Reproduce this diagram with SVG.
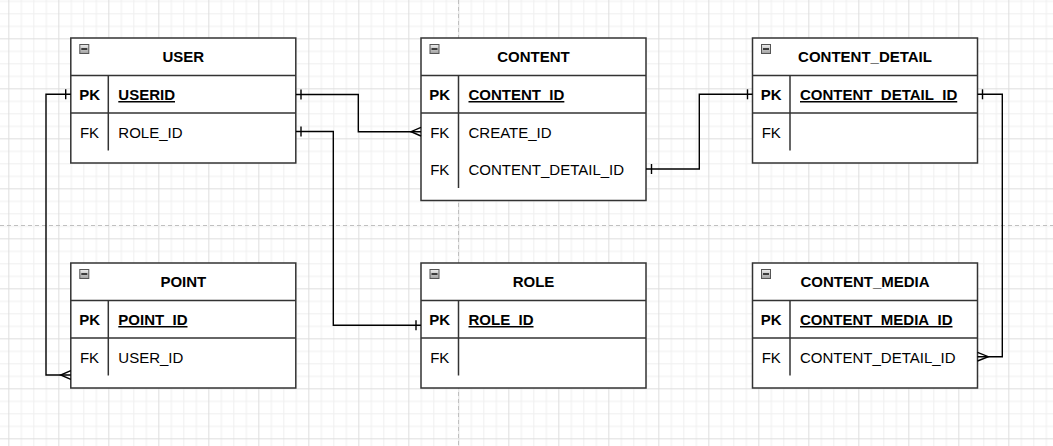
<svg xmlns="http://www.w3.org/2000/svg" width="1053" height="446" viewBox="0 0 1053 446">
  <style>
    .box{fill:#fff;stroke:#333;stroke-width:1.5}
    .sep{stroke:#333;stroke-width:1.5;fill:none}
    .title{font-family:"Liberation Sans",Arial,sans-serif;font-size:15px;font-weight:bold;text-anchor:middle;fill:#000}
    .key{font-family:"Liberation Sans",Arial,sans-serif;font-size:15px;text-anchor:middle;fill:#000}
    .keyb{font-family:"Liberation Sans",Arial,sans-serif;font-size:15px;font-weight:bold;text-anchor:middle;fill:#000}
    .fld{font-family:"Liberation Sans",Arial,sans-serif;font-size:15px;fill:#000}
    .pk{font-family:"Liberation Sans",Arial,sans-serif;font-size:15px;font-weight:bold;text-decoration:underline;fill:#000}
    .icon{fill:url(#ig);stroke:#555;stroke-width:1}
    .minus{stroke:#000;stroke-width:1.4}
    .edge{fill:none;stroke:#000;stroke-width:1.4}
  </style>
  <defs>
    <linearGradient id="ig" x1="0" y1="0" x2="0" y2="1">
      <stop offset="0" stop-color="#eeeeee"/>
      <stop offset="1" stop-color="#a0a0a0"/>
    </linearGradient>
    <pattern id="grid" patternUnits="userSpaceOnUse" x="8.33" y="38.33" width="50" height="50">
      <rect x="0" y="0" width="50" height="50" fill="#fff"/>
      <rect x="12.5" y="0" width="1" height="50" fill="#efefef"/>
      <rect x="25" y="0" width="1" height="50" fill="#efefef"/>
      <rect x="37.5" y="0" width="1" height="50" fill="#efefef"/>
      <rect x="0" y="12.5" width="50" height="1" fill="#efefef"/>
      <rect x="0" y="25" width="50" height="1" fill="#efefef"/>
      <rect x="0" y="37.5" width="50" height="1" fill="#efefef"/>
      <rect x="0" y="0" width="1" height="50" fill="#dedede"/>
      <rect x="0" y="0" width="50" height="1" fill="#dedede"/>
    </pattern>
  </defs>
  <rect x="0" y="0" width="1053" height="446" fill="url(#grid)"/>
  <g id="page-breaks" stroke="#c0c0c0" stroke-width="1" stroke-dasharray="4,3">
    <line x1="458.5" y1="0" x2="458.5" y2="446"/>
    <line x1="0" y1="225.5" x2="1053" y2="225.5"/>
  </g>

  <g id="user" transform="translate(70.8,38)">
    <rect class="box" x="0" y="0" width="225" height="125"/>
    <line class="sep" x1="0" y1="37.5" x2="225" y2="37.5"/>
    <line class="sep" x1="0" y1="75" x2="225" y2="75"/>
    <line class="sep" x1="37.5" y1="37.5" x2="37.5" y2="112.5"/>
    <rect class="icon" x="9" y="6.5" width="9" height="9"/>
    <line class="minus" x1="10.5" y1="11" x2="16.5" y2="11"/>
    <text class="title" x="112.5" y="24">USER</text>
    <text class="keyb" x="18.75" y="62">PK</text>
    <text class="pk" x="47.5" y="62">USERID</text>
    <text class="key" x="18.75" y="99.5">FK</text>
    <text class="fld" x="47.5" y="99.5">ROLE_ID</text>
  </g>

  <g id="content" transform="translate(421,38)">
    <rect class="box" x="0" y="0" width="225" height="162.5"/>
    <line class="sep" x1="0" y1="37.5" x2="225" y2="37.5"/>
    <line class="sep" x1="0" y1="75" x2="225" y2="75"/>
    <line class="sep" x1="37.5" y1="37.5" x2="37.5" y2="150"/>
    <rect class="icon" x="9" y="6.5" width="9" height="9"/>
    <line class="minus" x1="10.5" y1="11" x2="16.5" y2="11"/>
    <text class="title" x="112.5" y="24">CONTENT</text>
    <text class="keyb" x="18.75" y="62">PK</text>
    <text class="pk" x="47.5" y="62">CONTENT_ID</text>
    <text class="key" x="18.75" y="99.5">FK</text>
    <text class="fld" x="47.5" y="99.5">CREATE_ID</text>
    <text class="key" x="18.75" y="137">FK</text>
    <text class="fld" x="47.5" y="137">CONTENT_DETAIL_ID</text>
  </g>

  <g id="content-detail" transform="translate(752.5,38)">
    <rect class="box" x="0" y="0" width="225" height="125"/>
    <line class="sep" x1="0" y1="37.5" x2="225" y2="37.5"/>
    <line class="sep" x1="0" y1="75" x2="225" y2="75"/>
    <line class="sep" x1="37.5" y1="37.5" x2="37.5" y2="112.5"/>
    <rect class="icon" x="9" y="6.5" width="9" height="9"/>
    <line class="minus" x1="10.5" y1="11" x2="16.5" y2="11"/>
    <text class="title" x="112.5" y="24">CONTENT_DETAIL</text>
    <text class="keyb" x="18.75" y="62">PK</text>
    <text class="pk" x="47.5" y="62">CONTENT_DETAIL_ID</text>
    <text class="key" x="18.75" y="99.5">FK</text>
  </g>

  <g id="point" transform="translate(70.8,263)">
    <rect class="box" x="0" y="0" width="225" height="125"/>
    <line class="sep" x1="0" y1="37.5" x2="225" y2="37.5"/>
    <line class="sep" x1="0" y1="75" x2="225" y2="75"/>
    <line class="sep" x1="37.5" y1="37.5" x2="37.5" y2="112.5"/>
    <rect class="icon" x="9" y="6.5" width="9" height="9"/>
    <line class="minus" x1="10.5" y1="11" x2="16.5" y2="11"/>
    <text class="title" x="112.5" y="24">POINT</text>
    <text class="keyb" x="18.75" y="62">PK</text>
    <text class="pk" x="47.5" y="62">POINT_ID</text>
    <text class="key" x="18.75" y="99.5">FK</text>
    <text class="fld" x="47.5" y="99.5">USER_ID</text>
  </g>

  <g id="role" transform="translate(421,263)">
    <rect class="box" x="0" y="0" width="225" height="125"/>
    <line class="sep" x1="0" y1="37.5" x2="225" y2="37.5"/>
    <line class="sep" x1="0" y1="75" x2="225" y2="75"/>
    <line class="sep" x1="37.5" y1="37.5" x2="37.5" y2="112.5"/>
    <rect class="icon" x="9" y="6.5" width="9" height="9"/>
    <line class="minus" x1="10.5" y1="11" x2="16.5" y2="11"/>
    <text class="title" x="112.5" y="24">ROLE</text>
    <text class="keyb" x="18.75" y="62">PK</text>
    <text class="pk" x="47.5" y="62">ROLE_ID</text>
    <text class="key" x="18.75" y="99.5">FK</text>
  </g>

  <g id="content-media" transform="translate(752.5,263)">
    <rect class="box" x="0" y="0" width="225" height="125"/>
    <line class="sep" x1="0" y1="37.5" x2="225" y2="37.5"/>
    <line class="sep" x1="0" y1="75" x2="225" y2="75"/>
    <line class="sep" x1="37.5" y1="37.5" x2="37.5" y2="112.5"/>
    <rect class="icon" x="9" y="6.5" width="9" height="9"/>
    <line class="minus" x1="10.5" y1="11" x2="16.5" y2="11"/>
    <text class="title" x="112.5" y="24">CONTENT_MEDIA</text>
    <text class="keyb" x="18.75" y="62">PK</text>
    <text class="pk" x="47.5" y="62">CONTENT_MEDIA_ID</text>
    <text class="key" x="18.75" y="99.5">FK</text>
    <text class="fld" x="47.5" y="99.5">CONTENT_DETAIL_ID</text>
  </g>

  <g id="connectors">
    <!-- USER.USERID -> CONTENT.CREATE_ID (one to many) -->
    <path class="edge" d="M296,94.5 H358.3 V131.7 H421"/>
    <path class="edge" d="M301,89.5 V99.5"/>
    <path class="edge" d="M421,127.4 L411,131.7 L421,136"/>
    <!-- USER.ROLE_ID -> ROLE.ROLE_ID (one to one) -->
    <path class="edge" d="M296,131.5 H333.3 V325.3 H421"/>
    <path class="edge" d="M301,126.5 V136.5"/>
    <path class="edge" d="M416,320.3 V330.3"/>
    <!-- CONTENT.CONTENT_DETAIL_ID -> CONTENT_DETAIL.CONTENT_DETAIL_ID -->
    <path class="edge" d="M646,169 H699.3 V94.3 H752.5"/>
    <path class="edge" d="M651.5,164 V174"/>
    <path class="edge" d="M747.5,89.3 V99.3"/>
    <!-- CONTENT_DETAIL.CONTENT_DETAIL_ID -> CONTENT_MEDIA.CONTENT_DETAIL_ID (one to many) -->
    <path class="edge" d="M977.5,94.3 H1002.3 V356.7 H977.5"/>
    <path class="edge" d="M982.5,89.3 V99.3"/>
    <path class="edge" d="M977.5,352.4 L988.3,356.7 L977.5,361"/>
    <!-- USER.USERID -> POINT.USER_ID (one to many) -->
    <path class="edge" d="M70.8,94.3 H46 V375 H70.8"/>
    <path class="edge" d="M65.7,89.3 V99.3"/>
    <path class="edge" d="M70.8,370.7 L60.7,375 L70.8,379.3"/>
  </g>
</svg>
